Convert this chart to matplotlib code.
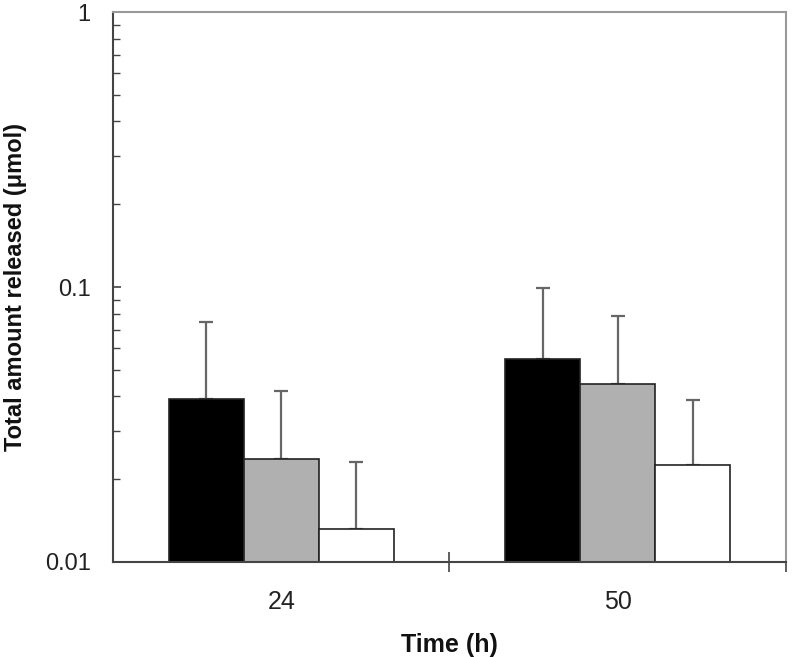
import numpy as np
import matplotlib.pyplot as plt

# data
times = ['24', '50']
black_vals = [0.0392, 0.0546]
gray_vals = [0.0236, 0.0443]
white_vals = [0.01315, 0.02254]
black_err = [0.0746 - 0.0392, 0.0994 - 0.0546]
gray_err = [0.042 - 0.0236, 0.0785 - 0.0443]
white_err = [0.0231 - 0.01315, 0.0389 - 0.02254]

plt.rcParams['font.family'] = ['Liberation Sans', 'DejaVu Sans']

fig = plt.figure(figsize=(7.92, 6.57), dpi=100)
ax = fig.add_axes([0.1427, 0.1446, 0.8497, 0.8371])

x = np.arange(len(times))
w = 0.223
series = [(black_vals, black_err, 'black'),
          (gray_vals, gray_err, '#b0b0b0'),
          (white_vals, white_err, 'white')]
for i, (vals, err, col) in enumerate(series):
    pos = x + (i - 1) * w
    ax.bar(pos, vals, w, color=col, edgecolor='#222222', linewidth=1.2, zorder=2)
    ax.errorbar(pos, vals, yerr=[np.zeros(len(vals)), err], fmt='none',
                ecolor='#666666', elinewidth=1.6, capsize=5, capthick=1.6, zorder=1)

ax.set_yscale('log')
ax.set_ylim(0.01, 1)
ax.set_xlim(-0.5, 1.5)

# category ticks at boundaries, labels at centres
ax.set_xticks([0.5, 1.5])
ax.set_xticklabels([])
ax.set_xticks([0, 1], minor=True)
ax.set_xticklabels(times, minor=True, fontsize=18, color='#222222')
ax.tick_params(axis='x', which='major', direction='inout', length=14, width=1.2, color='#444444')
ax.tick_params(axis='x', which='minor', length=0, pad=20)

ax.set_yticks([0.01, 0.1, 1])
ax.set_yticklabels(['0.01', '0.1', '1'], fontsize=17, color='#222222')
ax.tick_params(axis='y', which='major', direction='in', length=6, width=1.2, color='#444444', pad=16)
ax.tick_params(axis='y', which='minor', direction='in', length=5, width=1.0, color='#444444')

for s in ['left', 'bottom']:
    ax.spines[s].set_color('#444444')
    ax.spines[s].set_linewidth(1.5)
for s in ['top', 'right']:
    ax.spines[s].set_color('#999999')
    ax.spines[s].set_linewidth(1.5)

ax.set_xlabel('Time (h)', fontsize=18, fontweight='bold', labelpad=14, color='#111111')
ax.set_ylabel('Total amount released (\u03bcmol)', fontsize=17, fontweight='bold',
              labelpad=13, color='#111111')

fig.savefig('out.png', dpi=100)
